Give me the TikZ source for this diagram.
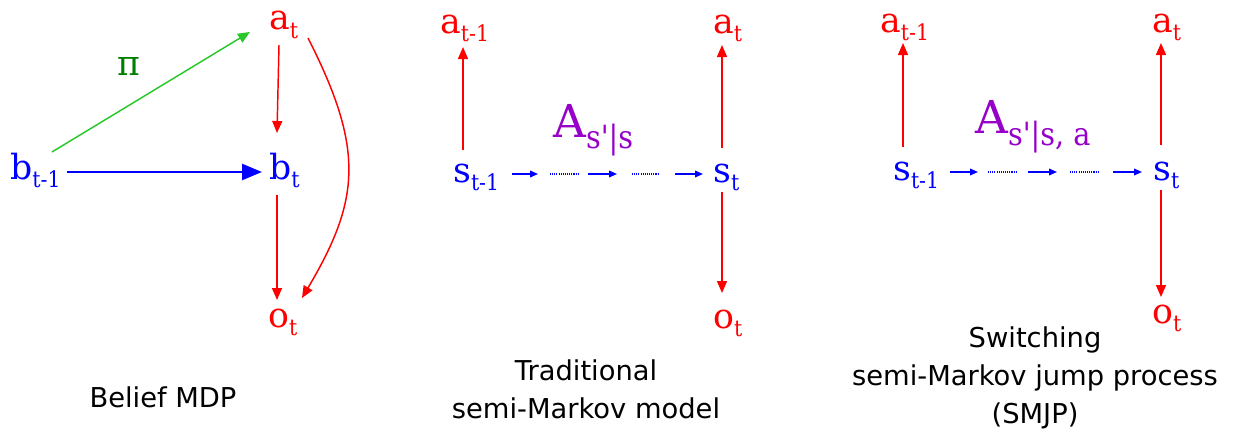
\documentclass[tikz,border=0pt]{standalone}
\usepackage{fontspec}
\setmainfont{DejaVu Serif}
\newfontfamily\subfont{DejaVu Serif Condensed}
\newfontfamily\capfont{DejaVu Sans}
\usetikzlibrary{arrows.meta}
\definecolor{myred}{RGB}{255,0,0}
\definecolor{myblue}{RGB}{0,0,255}
\definecolor{mygreen}{RGB}{40,200,40}
\definecolor{dkgreen}{RGB}{0,128,0}
\definecolor{mypurple}{RGB}{150,0,200}
\newcommand\sbx[1]{\raisebox{-6pt}{\subfont\fontsize{17}{17}\selectfont #1}}
\tikzset{
  lbl/.style={inner sep=0pt, anchor=base west, font=\fontsize{26}{26}\selectfont},
  redl/.style={lbl, text=myred},
  bluel/.style={lbl, text=myblue},
  redarr/.style={draw=myred, line width=1.1pt, -{Triangle[length=9pt,width=7.5pt]}},
  greenarr/.style={draw=mygreen, line width=1.1pt, -{Triangle[length=9pt,width=7.5pt]}},
  bigbluearr/.style={draw=myblue, line width=2pt, -{Triangle[length=15pt,width=12pt]}},
  smallarr/.style={draw=myblue, line width=1.2pt, -{Triangle[length=6pt,width=5pt]}},
  dotl/.style={draw=myblue, line width=0.9pt, dash pattern=on 0.8pt off 0.8pt},
  captxt/.style={font=\capfont\fontsize{20.5}{28.5}\selectfont, align=center, text=black, inner sep=0pt},
  bigA/.style={lbl, text=mypurple}
}
\begin{document}
\begin{tikzpicture}[x=0.75pt,y=-0.75pt]
\useasboundingbox (0,0) rectangle (1247,439);
% ---------- panel 1 : Belief MDP ----------
\node[redl]  (at1) at (269,30)  {a\sbx{t}};
\node[bluel] (bt1) at (269,179) {b\sbx{t}};
\node[bluel] (bp1) at (10,179)  {b\sbx{t-1}};
\node[redl]  (ot1) at (268,327) {o\sbx{t}};
\node[lbl, text=dkgreen] (pi1) at (117,75) {π};
\draw[greenarr] ([shift={(42,-27)}]bp1.base west) -- ([shift={(-19,2)}]at1.base west);
\draw[bigbluearr] ([shift={(57,-7)}]bp1.base west) -- ([shift={(-7,-7)}]bt1.base west);
\draw[redarr] ([shift={(10,15)}]at1.base west) -- ([shift={(8,-46)}]bt1.base west);
\draw[redarr] ([shift={(8,16)}]bt1.base west) -- ([shift={(9,-27)}]ot1.base west);
\draw[redarr] ([shift={(39,8)}]at1.base west) .. controls (365,150) and (360,200) .. ([shift={(34,-29)}]ot1.base west);
\node[captxt] (c1) at (163,397) {Belief MDP};
% ---------- panel 2 : Traditional semi-Markov ----------
\node[redl]  (ap2) at (440,33)  {a\sbx{t-1}};
\node[redl]  (at2) at (713,33)  {a\sbx{t}};
\node[bluel] (sp2) at (453,182) {s\sbx{t-1}};
\node[bluel] (st2) at (713,182) {s\sbx{t}};
\node[redl]  (ot2) at (713,328) {o\sbx{t}};
\node[bigA]  (A2)  at (553,137) {\fontsize{34}{34}\selectfont A\raisebox{-8.5pt}{\subfont\fontsize{24}{24}\selectfont s\textquotesingle|s}};
\draw[redarr] ([shift={(10,-32)}]sp2.base west) -- ([shift={(23,14)}]ap2.base west);
\draw[redarr] ([shift={(9,-34)}]st2.base west) -- ([shift={(9,12)}]at2.base west);
\draw[redarr] ([shift={(9,10)}]st2.base west) -- ([shift={(9,-35)}]ot2.base west);
\draw[smallarr] ([shift={(59,-8)}]sp2.base west) -- ++(26,0);
\draw[dotl] ([shift={(97,-8)}]sp2.base west) -- ++(28,0);
\draw[smallarr] ([shift={(135,-8)}]sp2.base west) -- ++(29,0);
\draw[dotl] ([shift={(179,-8)}]sp2.base west) -- ++(26,0);
\draw[smallarr] ([shift={(-38,-8)}]st2.base west) -- ([shift={(-10,-8)}]st2.base west);
\node[captxt] (c2) at (586,389) {Traditional\\semi-Markov model};
% ---------- panel 3 : SMJP ----------
\node[redl]  (ap3) at (880,32)   {a\sbx{t-1}};
\node[redl]  (at3) at (1152,32)  {a\sbx{t}};
\node[bluel] (sp3) at (893,180)  {s\sbx{t-1}};
\node[bluel] (st3) at (1153,180) {s\sbx{t}};
\node[redl]  (ot3) at (1152,323) {o\sbx{t}};
\node[bigA]  (A3)  at (975,133) {\fontsize{34}{34}\selectfont A\raisebox{-9pt}{\subfont\fontsize{24}{24}\selectfont s\textquotesingle|s, a}};
\draw[redarr] ([shift={(10,-33)}]sp3.base west) -- ([shift={(23,11)}]ap3.base west);
\draw[redarr] ([shift={(8,-35)}]st3.base west) -- ([shift={(9,11)}]at3.base west);
\draw[redarr] ([shift={(8,10)}]st3.base west) -- ([shift={(9,-26)}]ot3.base west);
\draw[smallarr] ([shift={(57,-8)}]sp3.base west) -- ++(28,0);
\draw[dotl] ([shift={(95,-8)}]sp3.base west) -- ++(29,0);
\draw[smallarr] ([shift={(135,-8)}]sp3.base west) -- ++(29,0);
\draw[dotl] ([shift={(177,-8)}]sp3.base west) -- ++(28,0);
\draw[smallarr] ([shift={(-40,-8)}]st3.base west) -- ([shift={(-11,-8)}]st3.base west);
\node[captxt] (c3) at (1035,378) {Switching\\semi-Markov jump process\\(SMJP)};
\end{tikzpicture}
\end{document}
